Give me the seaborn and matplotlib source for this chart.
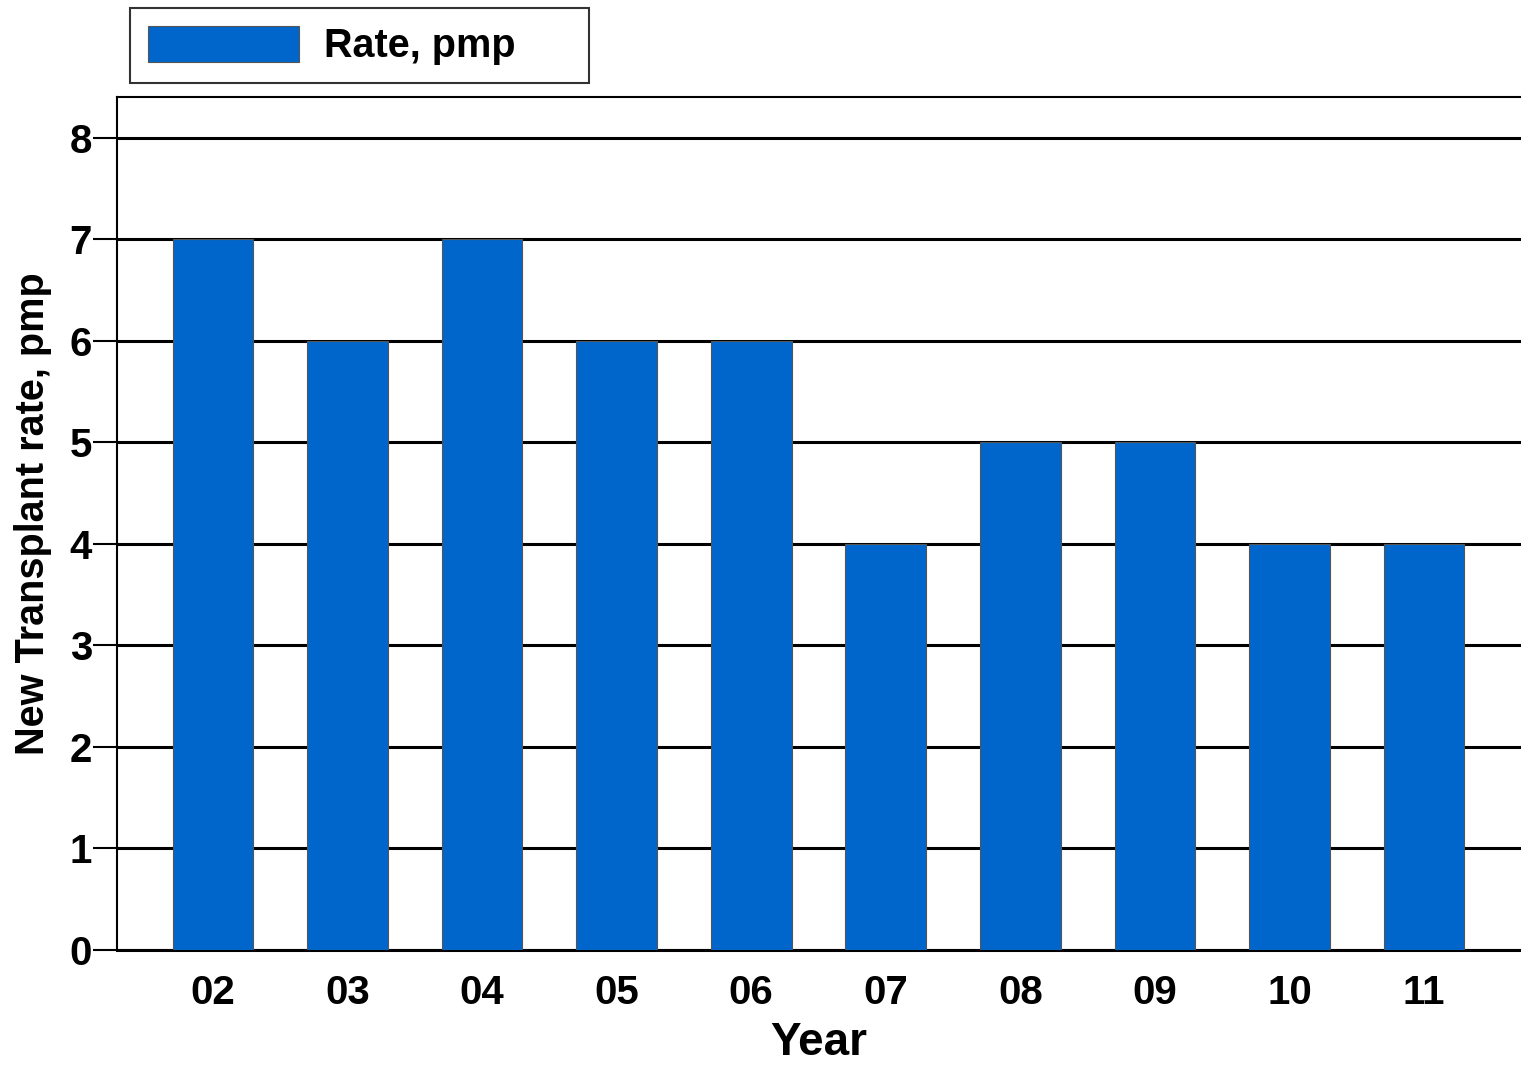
import matplotlib.pyplot as plt
import seaborn as sns
import pandas as pd
from matplotlib.patches import Patch

years = ["02", "03", "04", "05", "06", "07", "08", "09", "10", "11"]
rates = [7, 6, 7, 6, 6, 4, 5, 5, 4, 4]

df = pd.DataFrame({"Year": years, "Rate": rates})

sns.set_style("white")
plt.rcParams['font.family'] = ['Liberation Sans', 'DejaVu Sans']
plt.rcParams['font.weight'] = 'bold'
plt.rcParams['text.color'] = 'black'
plt.rcParams['axes.labelcolor'] = 'black'
plt.rcParams['xtick.color'] = 'black'
plt.rcParams['ytick.color'] = 'black'

fig = plt.figure(figsize=(15.21, 10.67), dpi=100)
ax = fig.add_axes([117 / 1521, 117 / 1067, 1 - 117 / 1521, (950 - 97) / 1067])

sns.barplot(data=df, x="Year", y="Rate", color="#0066CC", saturation=1,
            width=0.6, edgecolor="#555555", linewidth=0.8, ax=ax, zorder=3)

ax.set_xlim(-0.713, 9.72)
ax.set_ylim(0, 8.4)
ax.set_yticks(range(0, 9))
ax.yaxis.grid(True, color="black", linewidth=2.2, zorder=0)
ax.set_axisbelow(True)

for side in ["left", "top", "bottom"]:
    ax.spines[side].set_color("black")
    ax.spines[side].set_linewidth(1.5)
ax.spines["right"].set_visible(False)
ax.spines["bottom"].set_linewidth(2.2)

ax.tick_params(axis="y", which="major", left=True, length=17, width=1.5,
               color="black", labelcolor="black", labelsize=29, pad=1)
ax.tick_params(axis="x", bottom=False, labelcolor="black", labelsize=29, pad=14)
for lbl in ax.get_xticklabels() + ax.get_yticklabels():
    lbl.set_fontweight("bold")

ax.set_xlabel("Year", fontsize=33, fontweight="bold", color="black", labelpad=6)
ax.set_ylabel("New Transplant rate, pmp", fontsize=28.5, fontweight="bold",
              color="black")
ax.yaxis.set_label_coords(-0.0465, 0.512)

handles = [Patch(facecolor="#0066CC", edgecolor="#555555", linewidth=0.8,
                 label="Rate, pmp     ")]
leg = fig.legend(handles=handles, loc="upper left", bbox_to_anchor=(130 / 1521, 1 - 8 / 1067),
                 frameon=True, fancybox=False, prop={"size": 28.5, "weight": "bold"},
                 handlelength=3.83, handleheight=1.03, borderpad=0.45, handletextpad=0.63,
                 borderaxespad=0)
leg.get_frame().set_edgecolor("black")
leg.get_frame().set_linewidth(1.5)
for t in leg.get_texts():
    t.set_color("black")

fig.savefig("out.png", dpi=100)
